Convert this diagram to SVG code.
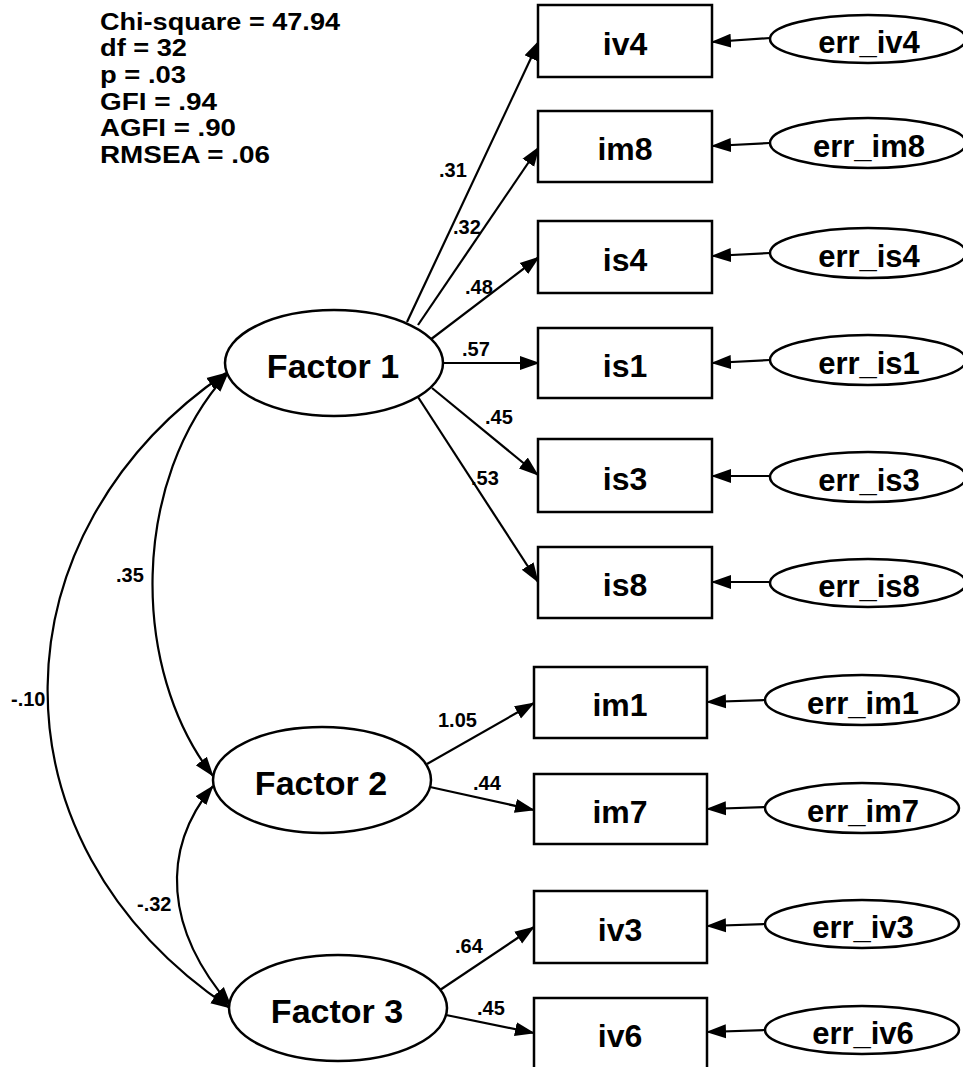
<svg xmlns="http://www.w3.org/2000/svg" width="963" height="1067" viewBox="0 0 963 1067">
<style>
text{font-family:"Liberation Sans",Arial,sans-serif;font-weight:bold;fill:#000}
.stat{font-size:23.5px}
.box rect{fill:#fff;stroke:#000;stroke-width:2.5}
.box text{font-size:32px;text-anchor:middle}
.fac ellipse{fill:#fff;stroke:#000;stroke-width:2.5}
.fac text{font-size:34px;text-anchor:middle}
.err ellipse{fill:#fff;stroke:#000;stroke-width:2.5}
.err text{font-size:31px;text-anchor:middle}
.conn path,.conn line{fill:none;stroke:#000;stroke-width:2.2}
.coef{font-size:20px}
</style>
<defs>
<marker id="ah" markerUnits="userSpaceOnUse" markerWidth="20" markerHeight="16" viewBox="0 0 20 16" refX="19" refY="8" orient="auto-start-reverse">
<path d="M0,1 L20,8 L0,15 z" fill="#000"/>
</marker>
</defs>

<g id="fit-stats">
<text class="stat" x="100" y="30" textLength="240" lengthAdjust="spacingAndGlyphs">Chi-square = 47.94</text>
<text class="stat" x="100" y="56" textLength="87" lengthAdjust="spacingAndGlyphs">df = 32</text>
<text class="stat" x="100" y="83" textLength="86" lengthAdjust="spacingAndGlyphs">p = .03</text>
<text class="stat" x="100" y="110" textLength="117" lengthAdjust="spacingAndGlyphs">GFI = .94</text>
<text class="stat" x="100" y="136" textLength="136" lengthAdjust="spacingAndGlyphs">AGFI = .90</text>
<text class="stat" x="100" y="163" textLength="170" lengthAdjust="spacingAndGlyphs">RMSEA = .06</text>
</g>

<g id="connectors" class="conn">
<!-- Factor 1 loadings -->
<line x1="407" y1="322" x2="539" y2="41" marker-end="url(#ah)"/>
<line x1="418" y1="325" x2="539" y2="147" marker-end="url(#ah)"/>
<line x1="430" y1="340" x2="539" y2="257" marker-end="url(#ah)"/>
<line x1="443" y1="363" x2="539" y2="363" marker-end="url(#ah)"/>
<line x1="432" y1="388" x2="538" y2="475" marker-end="url(#ah)"/>
<line x1="418" y1="397" x2="538" y2="582" marker-end="url(#ah)"/>
<!-- Factor 2 loadings -->
<line x1="427" y1="764" x2="534" y2="703" marker-end="url(#ah)"/>
<line x1="430" y1="787" x2="534" y2="810" marker-end="url(#ah)"/>
<!-- Factor 3 loadings -->
<line x1="440" y1="990" x2="534" y2="927" marker-end="url(#ah)"/>
<line x1="446" y1="1015" x2="534" y2="1033" marker-end="url(#ah)"/>
<!-- error arrows -->
<line x1="770" y1="38" x2="712" y2="42" marker-end="url(#ah)"/>
<line x1="770" y1="143" x2="712" y2="146" marker-end="url(#ah)"/>
<line x1="770" y1="253" x2="712" y2="256" marker-end="url(#ah)"/>
<line x1="770" y1="360" x2="712" y2="363" marker-end="url(#ah)"/>
<line x1="770" y1="476" x2="712" y2="476" marker-end="url(#ah)"/>
<line x1="770" y1="582" x2="712" y2="582" marker-end="url(#ah)"/>
<line x1="765" y1="700" x2="707" y2="702" marker-end="url(#ah)"/>
<line x1="765" y1="807" x2="707" y2="809" marker-end="url(#ah)"/>
<line x1="765" y1="924" x2="707" y2="926" marker-end="url(#ah)"/>
<line x1="765" y1="1030" x2="707" y2="1032" marker-end="url(#ah)"/>
<!-- covariances -->
<path d="M228,373 C130,480 130,670 213,776" marker-start="url(#ah)" marker-end="url(#ah)"/>
<path d="M226,373 C-5,530 -20,840 230,1008" marker-start="url(#ah)" marker-end="url(#ah)"/>
<path d="M213,786 C160,850 165,930 231,1006" marker-start="url(#ah)" marker-end="url(#ah)"/>
</g>

<g id="coefficients">
<text class="coef" x="439" y="177">.31</text>
<text class="coef" x="453" y="234">.32</text>
<text class="coef" x="465" y="294">.48</text>
<text class="coef" x="462" y="356">.57</text>
<text class="coef" x="485" y="424">.45</text>
<text class="coef" x="471" y="485">.53</text>
<text class="coef" x="438" y="727">1.05</text>
<text class="coef" x="473" y="790">.44</text>
<text class="coef" x="455" y="953">.64</text>
<text class="coef" x="477" y="1015">.45</text>
<text class="coef" x="116" y="582">.35</text>
<text class="coef" x="11" y="706">-.10</text>
<text class="coef" x="137" y="911">-.32</text>
</g>

<g id="factor1" class="fac"><ellipse cx="334" cy="363" rx="109" ry="53"/><text x="333" y="378">Factor 1</text></g>
<g id="factor2" class="fac"><ellipse cx="322" cy="780" rx="109" ry="53"/><text x="321" y="795">Factor 2</text></g>
<g id="factor3" class="fac"><ellipse cx="338" cy="1008" rx="109" ry="53"/><text x="337" y="1023">Factor 3</text></g>

<g id="iv4" class="box"><rect x="538" y="5" width="174" height="72"/><text x="625" y="55">iv4</text></g>
<g id="im8" class="box"><rect x="538" y="111" width="174" height="71"/><text x="625" y="160">im8</text></g>
<g id="is4" class="box"><rect x="538" y="221" width="174" height="72"/><text x="625" y="271">is4</text></g>
<g id="is1" class="box"><rect x="538" y="328" width="174" height="70"/><text x="625" y="377">is1</text></g>
<g id="is3" class="box"><rect x="538" y="439" width="174" height="73"/><text x="625" y="490">is3</text></g>
<g id="is8" class="box"><rect x="538" y="547" width="174" height="71"/><text x="625" y="596">is8</text></g>
<g id="im1" class="box"><rect x="534" y="667" width="173" height="71"/><text x="620" y="716">im1</text></g>
<g id="im7" class="box"><rect x="534" y="774" width="173" height="70"/><text x="620" y="823">im7</text></g>
<g id="iv3" class="box"><rect x="534" y="891" width="173" height="72"/><text x="620" y="941">iv3</text></g>
<g id="iv6" class="box"><rect x="534" y="998" width="173" height="72"/><text x="620" y="1047">iv6</text></g>

<g id="err_iv4" class="err"><ellipse cx="868" cy="39" rx="98" ry="24"/><text x="869" y="53">err_iv4</text></g>
<g id="err_im8" class="err"><ellipse cx="868" cy="143" rx="98" ry="25"/><text x="869" y="157">err_im8</text></g>
<g id="err_is4" class="err"><ellipse cx="868" cy="253" rx="98" ry="25"/><text x="869" y="267">err_is4</text></g>
<g id="err_is1" class="err"><ellipse cx="868" cy="360" rx="98" ry="25"/><text x="869" y="374">err_is1</text></g>
<g id="err_is3" class="err"><ellipse cx="868" cy="477" rx="98" ry="25"/><text x="869" y="491">err_is3</text></g>
<g id="err_is8" class="err"><ellipse cx="868" cy="583" rx="98" ry="24"/><text x="869" y="597">err_is8</text></g>
<g id="err_im1" class="err"><ellipse cx="862" cy="700" rx="97" ry="25"/><text x="863" y="714">err_im1</text></g>
<g id="err_im7" class="err"><ellipse cx="862" cy="808" rx="97" ry="25"/><text x="863" y="822">err_im7</text></g>
<g id="err_iv3" class="err"><ellipse cx="862" cy="924" rx="97" ry="24"/><text x="863" y="938">err_iv3</text></g>
<g id="err_iv6" class="err"><ellipse cx="862" cy="1030" rx="97" ry="24"/><text x="863" y="1044">err_iv6</text></g>
</svg>
